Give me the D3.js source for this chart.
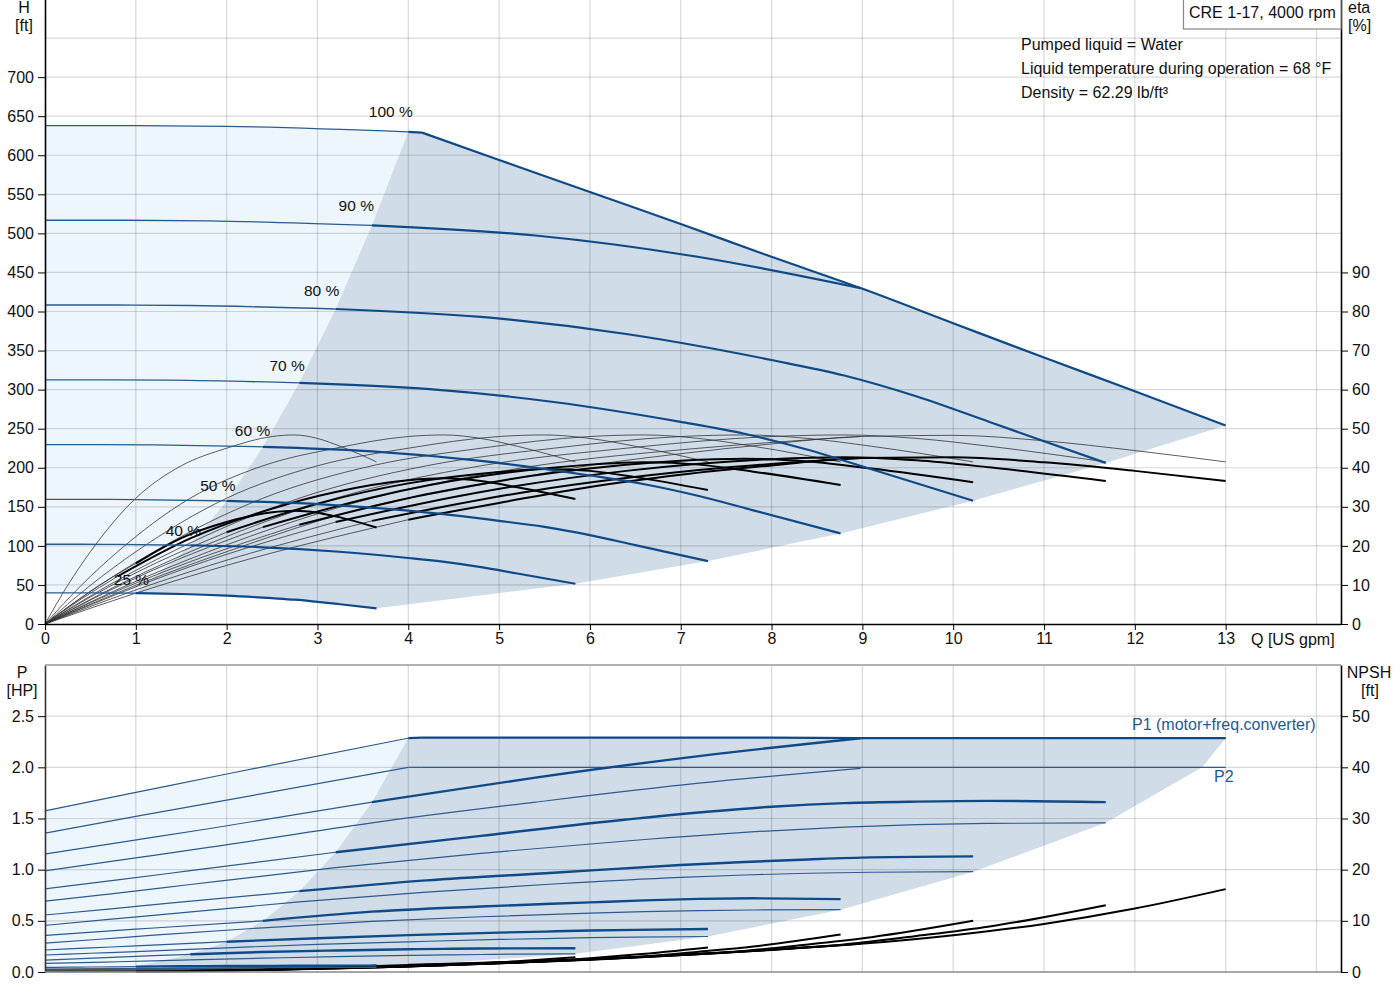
<!DOCTYPE html>
<html><head><meta charset="utf-8">
<script src="https://cdn.jsdelivr.net/npm/d3@7"></script>
<style>
body{margin:0;background:#fff}
svg{display:block}
text{font-family:"Liberation Sans",Arial,sans-serif;fill:#111}
</style>
</head><body>
<svg id="chart" width="1400" height="1000"></svg>
<script>
// ---------------- DATA ----------------
const speedLabels = ["100 %", "90 %", "80 %", "70 %", "60 %", "50 %", "40 %", "25 %"];
const speedFrac   = [1.0, 0.9, 0.8, 0.7, 0.6, 0.5, 0.4, 0.25];
const minFlowQ    = [4.0, 3.6, 3.2, 2.8, 2.4, 2.0, 1.6, 1.0];
const envelopeStartQ = 4.15;   // where the 100 % curve meets the power limit

const xTicks = [0,1,2,3,4,5,6,7,8,9,10,11,12,13];
const xGrid = [1,2,3,4,5,6,7,8,9,10,11,12,13,14];
const hTicks = [0,50,100,150,200,250,300,350,400,450,500,550,600,650,700];
const hGrid = [50,100,150,200,250,300,350,400,450,500,550,600,650,700,750];
const etaTicks = [0,10,20,30,40,50,60,70,80,90];
const pTicks = [0,0.5,1.0,1.5,2.0,2.5];
const npshTicks = [0,10,20,30,40,50];

// max curve (100 % speed, then power-limited envelope)
const qMax    = [0, 1, 2, 4, 4.15, 5, 6, 7, 8, 8.98, 10, 11, 12, 13];
const hMax    = [638, 638, 637, 630, 629, 594, 553, 512, 470, 430, 385, 341, 298, 254];
const etaPMax = [0, 9.9, 18.5, 32.2, 32.8, 36.5, 40.6, 43.6, 46.1, 48.0, 48.3, 46.9, 44.4, 41.5];
const etaTMax = [0, 7.9, 15.0, 26.7, 27.4, 31.0, 35.1, 38.2, 40.6, 42.5, 42.7, 41.4, 39.2, 36.6];
const p1Max   = [1.575, 1.755, 1.935, 2.285, 2.29, 2.29, 2.29, 2.29, 2.29, 2.285, 2.285, 2.285, 2.285, 2.285];
const p2Max   = [1.357, 1.52, 1.68, 2.0, 2.0, 2.0, 2.0, 2.0, 2.0, 2.0, 2.0, 2.0, 2.0, 2.0];
const npshMax = [0.6, 0.7, 0.8, 1.4, 1.45, 1.9, 2.5, 3.4, 4.3, 5.5, 7.2, 9.4, 12.4, 16.2];

// 90 %
const q90    = [0, 0.9, 1.8, 3.6, 5.4, 7.2, 8.98];
const h90    = [516.8, 516.8, 516.0, 510.3, 497.3, 469.8, 430];
const etaP90 = [0, 9.9, 18.5, 32.2, 40.5, 45, 48];
const etaT90 = [0, 7.9, 14.9, 26.4, 34.2, 39.4, 42.5];
const p1_90  = [1.152, 1.276, 1.40, 1.66, 1.90, 2.11, 2.285];
const p2_90  = [0.989, 1.103, 1.217, 1.458, 1.66, 1.845, 1.99];
const npsh90 = [0.49, 0.57, 0.65, 1.13, 2.03, 3.48, 5.5];

// pump efficiency at the lower speeds (same duty points)
const etaPump = [0, 9.9, 18.5, 32.2, 40.5, 45, 48, 48.4, 47.5, 45.5, 41.5];

// 80 %
const q80    = [0, 0.8, 1.6, 3.2, 4.8, 6.4, 8.0, 8.8, 9.6, 10.4, 11.68];
const h80    = [408.3, 408.3, 407.7, 403.2, 393.0, 371.2, 337.9, 318.1, 291.2, 258.6, 206.1];
const etaT80 = [0, 7.7, 14.7, 26.1, 33.8, 39.2, 42.2, 42.7, 41.9, 40.1, 36.6];
const p1_80  = [0.812, 0.90, 0.99, 1.17, 1.33, 1.49, 1.615, 1.65, 1.665, 1.672, 1.66];
const p2_80  = [0.693, 0.77, 0.855, 1.02, 1.16, 1.28, 1.38, 1.415, 1.44, 1.452, 1.458];
const npsh80 = [0.38, 0.45, 0.51, 0.9, 1.6, 2.75, 4.35, 5.38, 7.04, 8.9, 13.06];

// 70 %
const q70    = [0, 0.7, 1.4, 2.8, 4.2, 5.6, 7.0, 7.7, 8.4, 9.1, 10.22];
const h70    = [312.6, 312.6, 312.1, 308.7, 300.9, 284.2, 258.7, 243.5, 223.0, 198.0, 157.8];
const etaT70 = [0, 7.5, 14.2, 25.4, 33.2, 38.7, 41.8, 42.3, 41.6, 39.8, 36.3];
const p1_70  = [0.557, 0.615, 0.675, 0.79, 0.895, 0.97, 1.045, 1.075, 1.10, 1.12, 1.13];
const p2_70  = [0.455, 0.515, 0.57, 0.686, 0.78, 0.86, 0.925, 0.948, 0.965, 0.975, 0.98];
const npsh70 = [0.29, 0.34, 0.39, 0.69, 1.23, 2.11, 3.33, 4.12, 5.39, 6.81, 10.0];

// 60 %
const q60    = [0, 0.6, 1.2, 2.4, 3.6, 4.8, 6.0, 6.6, 7.2, 7.8, 8.76];
const h60    = [229.7, 229.7, 229.3, 226.8, 221.0, 208.8, 190.1, 178.9, 163.8, 145.4, 115.9];
const etaT60 = [0, 7.3, 13.9, 24.8, 32.4, 37.8, 40.8, 41.4, 40.8, 39.0, 35.6];
const p1_60  = [0.358, 0.395, 0.43, 0.50, 0.59, 0.64, 0.68, 0.70, 0.715, 0.72, 0.712];
const p2_60  = [0.282, 0.32, 0.36, 0.432, 0.495, 0.54, 0.575, 0.59, 0.60, 0.606, 0.609];
const npsh60 = [0.22, 0.25, 0.29, 0.5, 0.9, 1.55, 2.45, 3.02, 3.96, 5.0, 7.34];

// 50 %
const q50    = [0, 0.5, 1, 2, 3, 4, 5, 5.5, 6, 6.5, 7.3];
const h50    = [159.5, 159.5, 159.3, 157.5, 153.5, 145.0, 132.0, 124.3, 113.8, 101.0, 80.5];
const etaT50 = [0, 6.9, 13.1, 23.5, 30.8, 36.0, 38.9, 39.7, 39.2, 37.6, 34.3];
const p1_50  = [0.215, 0.235, 0.255, 0.296, 0.33, 0.36, 0.385, 0.395, 0.405, 0.412, 0.42];
const p2_50  = [0.166, 0.183, 0.2, 0.236, 0.27, 0.295, 0.318, 0.327, 0.335, 0.341, 0.347];
const npsh50 = [0.15, 0.18, 0.2, 0.35, 0.63, 1.08, 1.7, 2.1, 2.7, 3.4, 4.8];

// 40 %
const q40    = [0, 0.4, 0.8, 1.6, 2.4, 3.2, 4.0, 4.4, 4.8, 5.2, 5.84];
const h40    = [102.1, 102.1, 101.9, 100.8, 98.2, 92.8, 84.5, 79.5, 72.8, 64.6, 51.5];
const etaT40 = [0, 6.4, 12.2, 21.9, 28.8, 33.8, 36.8, 37.3, 36.6, 35.0, 32.0];
const p1_40  = [0.117, 0.131, 0.145, 0.173, 0.195, 0.21, 0.222, 0.226, 0.229, 0.231, 0.232];
const p2_40  = [0.085, 0.092, 0.10, 0.118, 0.135, 0.15, 0.162, 0.167, 0.171, 0.175, 0.178];
const npsh40 = [0.1, 0.11, 0.13, 0.22, 0.4, 0.69, 1.09, 1.34, 1.7, 2.1, 2.9];

// 25 %
const q25    = [0, 0.25, 0.5, 1, 1.5, 2, 2.5, 2.75, 3, 3.25, 3.65];
const h25    = [39.9, 39.9, 39.8, 39.4, 38.4, 36.3, 33.0, 31.1, 28.4, 25.3, 20.1];
const etaT25 = [0, 4.3, 8.4, 15.5, 22.0, 26.1, 28.6, 29.0, 28.5, 27.3, 24.7];
const p1_25  = [0.045, 0.047, 0.049, 0.053, 0.056, 0.058, 0.06, 0.061, 0.061, 0.062, 0.062];
const p2_25  = [0.021, 0.023, 0.026, 0.031, 0.035, 0.039, 0.042, 0.043, 0.044, 0.044, 0.044];
const npsh25 = [0.04, 0.04, 0.05, 0.09, 0.16, 0.27, 0.43, 0.53, 0.69, 0.87, 1.28];

// flow from which each total-efficiency curve is drawn heavy
const etaHeavyFromQ = [4.0, 3.6, 3.2, 2.8, 2.4, 2.0, 0.8, 1.0];

// corner of the operating area in the power chart
const pAreaKnee = [12.74, 2.0];

const infoLines = ["Pumped liquid = Water", "Liquid temperature during operation = 68 °F", "Density = 62.29 lb/ft³"];
const titleText = "CRE 1-17, 4000 rpm";

// ---------------- BUILD ----------------
const curves = [
  {q:qMax, h:hMax, ep:etaPMax, et:etaTMax, p1:p1Max, p2:p2Max, np:npshMax},
  {q:q90, h:h90, ep:etaP90, et:etaT90, p1:p1_90, p2:p2_90, np:npsh90},
  {q:q80, h:h80, ep:etaPump, et:etaT80, p1:p1_80, p2:p2_80, np:npsh80},
  {q:q70, h:h70, ep:etaPump, et:etaT70, p1:p1_70, p2:p2_70, np:npsh70},
  {q:q60, h:h60, ep:etaPump, et:etaT60, p1:p1_60, p2:p2_60, np:npsh60},
  {q:q50, h:h50, ep:etaPump, et:etaT50, p1:p1_50, p2:p2_50, np:npsh50},
  {q:q40, h:h40, ep:etaPump, et:etaT40, p1:p1_40, p2:p2_40, np:npsh40},
  {q:q25, h:h25, ep:etaPump, et:etaT25, p1:p1_25, p2:p2_25, np:npsh25}
];
const idxOf = (arr, v) => arr.findIndex(a => Math.abs(a - v) < 1e-6);
curves.forEach((c, i) => {
  c.label = speedLabels[i]; c.n = speedFrac[i]; c.qm = minFlowQ[i];
  c.i0 = idxOf(c.q, c.qm);
  c.ie = idxOf(c.q, etaHeavyFromQ[i]);
  c.last = c.q.length - 1;
  c.k = idxOf(c.q, envelopeStartQ);  // -1 if none
});
const seg = (c, key, a, b) => c.q.slice(a, b).map((q, k) => [q, c[key][a + k]]);
// split a run of points at the real corners of the max curve so those corners stay sharp
function pieces(c, key, a, b) {
  b = b === undefined ? c.q.length : b;
  let cuts = [];
  if (c.k >= 0) cuts = (key === "p1" || key === "p2") ? [c.i0, c.k] : [c.k];
  cuts = cuts.filter(v => v > a && v < b - 1).sort((p, q) => p - q);
  const out = []; let s = a;
  cuts.forEach(ct => { out.push(seg(c, key, s, ct + 1)); s = ct; });
  out.push(seg(c, key, s, b));
  return out;
}

const svg = d3.select("#chart");
const x = d3.scaleLinear().domain([0, 14.27]).range([45, 1341]);
const yH = d3.scaleLinear().domain([0, 800]).range([624, -1]);
const yEta = d3.scaleLinear().domain([0, 160]).range([624, -1]);
const yP = d3.scaleLinear().domain([0, 3]).range([972, 665]);
const yN = d3.scaleLinear().domain([0, 60]).range([972, 665]);

const mk = (ys, curve) => d3.line().x(d => x(d[0])).y(d => ys(d[1])).curve(curve || d3.curveMonotoneX);
const lineH = mk(yH), lineEta = mk(yEta), lineP = mk(yP), lineN = mk(yN);
const polyH = mk(yH, d3.curveLinear), polyP = mk(yP, d3.curveLinear);

const LIGHT = "#eef6fd", DARK = "#d0dce8";
const BLUE = "#0e4a88", THINBLUE = "#2c5b8f";

const maxC = curves[0], lowC = curves[curves.length - 1];
const inner = curves.slice(1);
const endCurves = curves.slice(2);

// ---- top regions ----
const gTop = svg.append("g");
const lightTop = [
  ...seg(maxC, "h", 0, maxC.i0 + 1),
  ...inner.map(c => [c.q[c.i0], c.h[c.i0]]),
  ...seg(lowC, "h", 0, lowC.i0).reverse()
];
gTop.append("path").attr("d", polyH(lightTop) + "Z").attr("fill", LIGHT);
const darkTop = [
  ...curves.slice().reverse().map(c => [c.q[c.i0], c.h[c.i0]]),
  ...seg(maxC, "h", maxC.i0 + 1),
  ...endCurves.map(c => [c.q[c.last], c.h[c.last]]),
  ...seg(lowC, "h", lowC.i0 + 1, lowC.last).reverse()
];
gTop.append("path").attr("d", polyH(darkTop) + "Z").attr("fill", DARK);

// ---- bottom regions ----
const gBot = svg.append("g");
const lightBot = [
  ...seg(maxC, "p1", 0, maxC.i0 + 1),
  ...inner.map(c => [c.q[c.i0], c.p1[c.i0]]),
  ...seg(lowC, "p2", 0, lowC.i0 + 1).reverse()
];
gBot.append("path").attr("d", polyP(lightBot) + "Z").attr("fill", LIGHT);
const darkBot = [
  ...curves.slice().reverse().map(c => [c.q[c.i0], c.p1[c.i0]]),
  ...seg(maxC, "p1", maxC.i0 + 1),
  pAreaKnee,
  ...endCurves.map(c => [c.q[c.last], c.p2[c.last]]),
  ...seg(lowC, "p2", lowC.i0, lowC.last).reverse()
];
gBot.append("path").attr("d", polyP(darkBot) + "Z").attr("fill", DARK);

// ---- grids ----
const grid = svg.append("g").attr("stroke", "rgba(0,0,0,0.15)").attr("stroke-width", 1.2);
xGrid.forEach(v => {
  grid.append("line").attr("x1", x(v)).attr("x2", x(v)).attr("y1", 0).attr("y2", 624);
  grid.append("line").attr("x1", x(v)).attr("x2", x(v)).attr("y1", 665).attr("y2", 972);
});
hGrid.forEach(v => grid.append("line").attr("x1", 45).attr("x2", 1341).attr("y1", yH(v)).attr("y2", yH(v)));
pTicks.filter(v => v > 0).forEach(v => grid.append("line").attr("x1", 45).attr("x2", 1341).attr("y1", yP(v)).attr("y2", yP(v)));

function draw(g, c, key, a, b, line, stroke, width) {
  pieces(c, key, a, b).forEach(p => g.append("path").attr("d", line(p))
    .attr("stroke", stroke).attr("stroke-width", width).attr("fill", "none"));
}

// ---- top curves ----
const gEta = svg.append("g");
curves.forEach(c => {
  draw(gEta, c, "ep", 0, undefined, lineEta, "#333", 0.8);
  draw(gEta, c, "et", 0, c.ie + 1, lineEta, "#333", 0.8);
});
curves.forEach(c => draw(gEta, c, "et", c.ie, undefined, lineEta, "#000", 2));
const gH = svg.append("g");
curves.forEach(c => {
  draw(gH, c, "h", 0, c.i0 + 1, lineH, THINBLUE, 1.3);
  draw(gH, c, "h", c.i0, undefined, lineH, BLUE, 2.2);
});

// ---- bottom curves ----
const gP = svg.append("g");
curves.forEach(c => {
  draw(gP, c, "np", 0, c.i0 + 1, lineN, "#444", 0.9);
  draw(gP, c, "np", c.i0, undefined, lineN, "#000", 2);
});
curves.forEach(c => {
  draw(gP, c, "p2", 0, undefined, lineP, THINBLUE, 1.2);
  draw(gP, c, "p1", 0, c.i0 + 1, lineP, THINBLUE, 1.2);
  draw(gP, c, "p1", c.i0, undefined, lineP, BLUE, 2.4);
});

// ---- speed labels ----
curves.forEach(c => {
  svg.append("text")
    .attr("x", x(c.qm * 0.952))
    .attr("y", yH(c.h[c.i0]) - (8 + 7 * (c.n - 0.25) / 0.75))
    .attr("text-anchor", "middle").attr("font-size", 15.5).text(c.label);
});

// ---- axes ----
function styleAxis(g, color, width) {
  g.attr("font-size", null).attr("font-family", null);
  g.selectAll("text").attr("font-size", 16).style("fill", "#111");
  g.selectAll(".tick line").attr("stroke", "#000");
  g.select(".domain").attr("stroke", color).attr("stroke-width", width);
}
styleAxis(svg.append("g").attr("transform", "translate(45,0)")
  .call(d3.axisLeft(yH).tickValues(hTicks).tickSize(7).tickPadding(4).tickSizeOuter(0)), "#000", 1.6);
styleAxis(svg.append("g").attr("transform", "translate(1341,0)")
  .call(d3.axisRight(yEta).tickValues(etaTicks).tickSize(7).tickPadding(4).tickSizeOuter(0)), "#000", 1.6);
styleAxis(svg.append("g").attr("transform", "translate(0,624)")
  .call(d3.axisBottom(x).tickValues(xTicks).tickSize(6).tickPadding(3).tickSizeOuter(0)), "#000", 1.6);

styleAxis(svg.append("g").attr("transform", "translate(45,0)")
  .call(d3.axisLeft(yP).tickValues(pTicks).tickFormat(d3.format(".1f")).tickSize(7).tickPadding(4).tickSizeOuter(0)), "#333", 1.6);
styleAxis(svg.append("g").attr("transform", "translate(1341,0)")
  .call(d3.axisRight(yN).tickValues(npshTicks).tickSize(7).tickPadding(4).tickSizeOuter(0)), "#000", 1.6);
svg.append("line").attr("x1", 45).attr("x2", 1341).attr("y1", yP(0)).attr("y2", yP(0)).attr("stroke", "#888").attr("stroke-width", 1.5);
svg.append("line").attr("x1", 45).attr("x2", 1341).attr("y1", yP(3)).attr("y2", yP(3)).attr("stroke", "#999").attr("stroke-width", 1.5);

// ---- texts ----
const T = (t, xx, yy, anchor, color) => svg.append("text").attr("x", xx).attr("y", yy)
  .attr("text-anchor", anchor || "start").attr("font-size", 16).style("fill", color || "#111").text(t);
T("H", 24, 12.5, "middle"); T("[ft]", 24, 30.5, "middle");
T("eta", 1348, 12.7); T("[%]", 1348, 30.7);
T("Q [US gpm]", 1251, 644.5);
T("P", 22, 678, "middle"); T("[HP]", 22, 696, "middle");
T("NPSH", 1369, 677.5, "middle"); T("[ft]", 1370, 696, "middle");
T("P1 (motor+freq.converter)", 1132, 730, "start", "#1f5a97");
T("P2", 1214, 782, "start", "#1f5a97");

svg.append("rect").attr("x", 1183.5).attr("y", -1).attr("width", 157.5).attr("height", 30)
  .attr("fill", "#fff").attr("stroke", "#888").attr("stroke-width", 1.2);
T(titleText, 1189, 17.5);
infoLines.forEach((t, i) => T(t, 1021, 50 + i * 23.8));
</script>
</body></html>
